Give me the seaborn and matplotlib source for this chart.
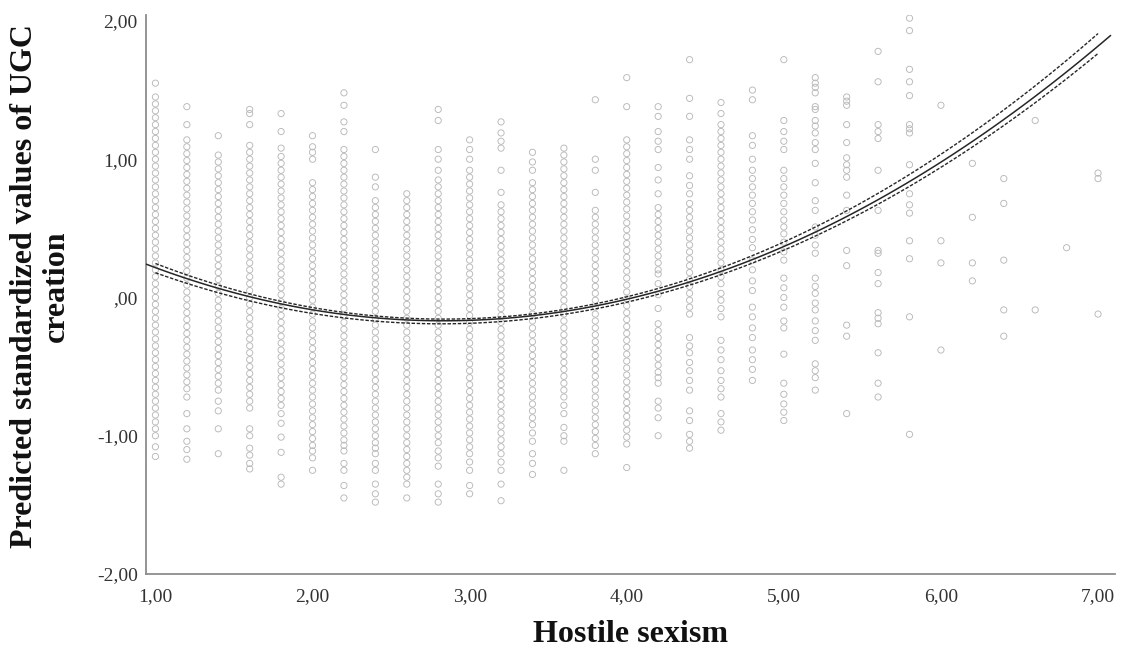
import numpy as np
import pandas as pd
import matplotlib
matplotlib.use("Agg")
import matplotlib.pyplot as plt
from matplotlib.ticker import FuncFormatter
import seaborn as sns

# --- data ---
# observed values per hostile sexism level (x = 1.0, 1.2, ..., 7.0)
hostile_levels = [1.0, 1.2, 1.4, 1.6, 1.8, 2.0, 2.2, 2.4, 2.6, 2.8, 3.0,
                  3.2, 3.4, 3.6, 3.8, 4.0, 4.2, 4.4, 4.6, 4.8, 5.0, 5.2,
                  5.4, 5.6, 5.8, 6.0, 6.2, 6.4, 6.6, 6.8, 7.0]

ugc_10 = [1.55, 1.45, 1.40, 1.35, 1.30, 1.25, 1.20, 1.15, 1.10, 1.05, 1.00, 0.95, 0.90, 0.85, 0.80,
          0.75, 0.70, 0.65, 0.60, 0.55, 0.50, 0.45, 0.40, 0.35, 0.30, 0.25, 0.20, 0.15, 0.10, 0.05,
          0.00, -0.05, -0.10, -0.15, -0.20, -0.25, -0.30, -0.35, -0.40, -0.45, -0.50, -0.55, -0.60,
          -0.65, -0.70, -0.75, -0.80, -0.85, -0.90, -0.95, -1.00, -1.08, -1.15]
ugc_12 = [1.38, 1.25, 1.14, 1.09, 1.04, 0.99, 0.94, 0.89, 0.84, 0.79, 0.74, 0.69, 0.64, 0.59, 0.54,
          0.49, 0.44, 0.39, 0.34, 0.29, 0.24, 0.19, 0.14, 0.09, 0.04, -0.01, -0.06, -0.11, -0.16,
          -0.21, -0.26, -0.31, -0.36, -0.41, -0.46, -0.51, -0.56, -0.61, -0.66, -0.72, -0.84, -0.95,
          -1.04, -1.10, -1.17]
ugc_14 = [1.17, 1.03, 0.98, 0.93, 0.88, 0.83, 0.78, 0.73, 0.68, 0.63, 0.58, 0.53, 0.48, 0.43, 0.38,
          0.33, 0.28, 0.23, 0.18, 0.13, 0.08, 0.03, -0.02, -0.07, -0.12, -0.17, -0.22, -0.27, -0.32,
          -0.37, -0.42, -0.47, -0.52, -0.57, -0.62, -0.67, -0.75, -0.82, -0.95, -1.13]
ugc_16 = [1.36, 1.33, 1.25, 1.10, 1.05, 1.00, 0.95, 0.90, 0.85, 0.80, 0.75, 0.70, 0.65, 0.60, 0.55,
          0.50, 0.45, 0.40, 0.35, 0.30, 0.25, 0.20, 0.15, 0.10, 0.05, 0.00, -0.05, -0.10, -0.15,
          -0.20, -0.25, -0.30, -0.35, -0.40, -0.45, -0.50, -0.55, -0.60, -0.65, -0.70, -0.75, -0.80,
          -0.95, -1.00, -1.09, -1.14, -1.20, -1.24]
ugc_18 = [1.33, 1.20, 1.08, 1.02, 0.97, 0.92, 0.87, 0.82, 0.77, 0.72, 0.67, 0.62, 0.57, 0.52, 0.47,
          0.42, 0.37, 0.32, 0.27, 0.22, 0.17, 0.12, 0.07, 0.02, -0.03, -0.08, -0.13, -0.18, -0.23,
          -0.28, -0.33, -0.38, -0.43, -0.48, -0.53, -0.58, -0.63, -0.68, -0.73, -0.78, -0.84, -0.91,
          -1.01, -1.12, -1.30, -1.35]
ugc_20 = [1.17, 1.09, 1.05, 1.00, 0.83, 0.78, 0.73, 0.68, 0.63, 0.58, 0.53, 0.48, 0.43, 0.38, 0.33,
          0.28, 0.23, 0.18, 0.13, 0.08, 0.03, -0.02, -0.07, -0.12, -0.17, -0.22, -0.27, -0.32, -0.37,
          -0.42, -0.47, -0.52, -0.57, -0.62, -0.67, -0.72, -0.77, -0.82, -0.87, -0.92, -0.97, -1.02,
          -1.07, -1.11, -1.16, -1.25]
ugc_22 = [1.48, 1.39, 1.27, 1.20, 1.07, 1.02, 0.97, 0.92, 0.87, 0.82, 0.77, 0.72, 0.67, 0.62, 0.57,
          0.52, 0.47, 0.42, 0.37, 0.32, 0.27, 0.22, 0.17, 0.12, 0.07, 0.02, -0.03, -0.08, -0.13,
          -0.18, -0.23, -0.28, -0.33, -0.38, -0.43, -0.48, -0.53, -0.58, -0.63, -0.68, -0.73, -0.78,
          -0.83, -0.88, -0.93, -0.98, -1.03, -1.07, -1.11, -1.20, -1.25, -1.36, -1.45]
ugc_24 = [1.07, 0.87, 0.80, 0.70, 0.65, 0.60, 0.55, 0.50, 0.45, 0.40, 0.35, 0.30, 0.25, 0.20, 0.15,
          0.10, 0.05, 0.00, -0.05, -0.10, -0.15, -0.20, -0.25, -0.30, -0.35, -0.40, -0.45, -0.50,
          -0.55, -0.60, -0.65, -0.70, -0.75, -0.80, -0.85, -0.90, -0.95, -1.00, -1.05, -1.09, -1.13,
          -1.20, -1.25, -1.35, -1.42, -1.48]
ugc_26 = [0.75, 0.70, 0.65, 0.60, 0.55, 0.50, 0.45, 0.40, 0.35, 0.30, 0.25, 0.20, 0.15, 0.10, 0.05,
          0.00, -0.05, -0.10, -0.15, -0.20, -0.25, -0.30, -0.35, -0.40, -0.45, -0.50, -0.55, -0.60,
          -0.65, -0.70, -0.75, -0.80, -0.85, -0.90, -0.95, -1.00, -1.05, -1.10, -1.15, -1.20, -1.25,
          -1.30, -1.35, -1.45]
ugc_28 = [1.36, 1.28, 1.07, 1.00, 0.92, 0.85, 0.80, 0.75, 0.70, 0.65, 0.60, 0.55, 0.50, 0.45, 0.40,
          0.35, 0.30, 0.25, 0.20, 0.15, 0.10, 0.05, 0.00, -0.05, -0.10, -0.15, -0.20, -0.25, -0.30,
          -0.35, -0.40, -0.45, -0.50, -0.55, -0.60, -0.65, -0.70, -0.75, -0.80, -0.85, -0.90, -0.95,
          -1.00, -1.05, -1.11, -1.16, -1.22, -1.35, -1.42, -1.48]
ugc_30 = [1.14, 1.07, 1.00, 0.92, 0.87, 0.82, 0.77, 0.72, 0.67, 0.62, 0.57, 0.52, 0.47, 0.42, 0.37,
          0.32, 0.27, 0.22, 0.17, 0.12, 0.07, 0.02, -0.03, -0.08, -0.13, -0.18, -0.23, -0.28, -0.33,
          -0.38, -0.43, -0.48, -0.53, -0.58, -0.63, -0.68, -0.73, -0.78, -0.83, -0.88, -0.93, -0.98,
          -1.03, -1.08, -1.13, -1.19, -1.25, -1.36, -1.42]
ugc_32 = [1.27, 1.19, 1.13, 1.08, 0.92, 0.76, 0.67, 0.62, 0.57, 0.52, 0.47, 0.42, 0.37, 0.32, 0.27,
          0.22, 0.17, 0.12, 0.07, 0.02, -0.03, -0.08, -0.13, -0.18, -0.23, -0.28, -0.33, -0.38,
          -0.43, -0.48, -0.53, -0.58, -0.63, -0.68, -0.73, -0.78, -0.83, -0.88, -0.93, -0.98, -1.03,
          -1.08, -1.13, -1.19, -1.25, -1.35, -1.47]
ugc_34 = [1.05, 0.98, 0.92, 0.83, 0.78, 0.73, 0.68, 0.63, 0.58, 0.53, 0.48, 0.43, 0.38, 0.33, 0.28,
          0.23, 0.18, 0.13, 0.08, 0.03, -0.02, -0.07, -0.12, -0.17, -0.22, -0.27, -0.32, -0.37,
          -0.42, -0.47, -0.52, -0.57, -0.62, -0.67, -0.72, -0.77, -0.82, -0.87, -0.92, -0.98, -1.04,
          -1.13, -1.20, -1.28]
ugc_36 = [1.08, 1.03, 0.98, 0.93, 0.88, 0.83, 0.78, 0.73, 0.68, 0.63, 0.58, 0.53, 0.48, 0.43, 0.38,
          0.33, 0.28, 0.23, 0.18, 0.13, 0.08, 0.03, -0.02, -0.07, -0.12, -0.17, -0.22, -0.27, -0.32,
          -0.37, -0.42, -0.47, -0.52, -0.57, -0.62, -0.67, -0.72, -0.78, -0.84, -0.94, -1.00, -1.04,
          -1.25]
ugc_38 = [1.43, 1.00, 0.92, 0.76, 0.63, 0.58, 0.53, 0.48, 0.43, 0.38, 0.33, 0.28, 0.23, 0.18, 0.13,
          0.08, 0.03, -0.02, -0.07, -0.12, -0.17, -0.22, -0.27, -0.32, -0.37, -0.42, -0.47, -0.52,
          -0.57, -0.62, -0.67, -0.72, -0.77, -0.82, -0.87, -0.92, -0.97, -1.02, -1.07, -1.13]
ugc_40 = [1.59, 1.38, 1.14, 1.09, 1.04, 0.99, 0.94, 0.89, 0.84, 0.79, 0.74, 0.69, 0.64, 0.59, 0.54,
          0.49, 0.44, 0.39, 0.34, 0.29, 0.24, 0.19, 0.14, 0.09, 0.04, -0.01, -0.06, -0.11, -0.16,
          -0.21, -0.26, -0.31, -0.36, -0.41, -0.46, -0.51, -0.56, -0.61, -0.66, -0.71, -0.76, -0.81,
          -0.86, -0.91, -0.96, -1.01, -1.06, -1.23]
ugc_42 = [1.38, 1.31, 1.20, 1.13, 1.07, 0.94, 0.85, 0.75, 0.65, 0.60, 0.55, 0.50, 0.45, 0.40, 0.35,
          0.30, 0.25, 0.20, 0.17, 0.10, 0.02, -0.08, -0.19, -0.24, -0.29, -0.34, -0.39, -0.44,
          -0.49, -0.54, -0.58, -0.62, -0.75, -0.80, -0.87, -1.00]
ugc_44 = [1.72, 1.44, 1.31, 1.14, 1.07, 1.00, 0.88, 0.81, 0.75, 0.68, 0.63, 0.58, 0.53, 0.48, 0.43,
          0.38, 0.33, 0.28, 0.23, 0.18, 0.13, 0.08, 0.03, -0.02, -0.07, -0.12, -0.29, -0.35, -0.40,
          -0.47, -0.53, -0.60, -0.67, -0.82, -0.89, -0.99, -1.04, -1.09]
ugc_46 = [1.41, 1.33, 1.25, 1.20, 1.15, 1.10, 1.05, 1.00, 0.95, 0.90, 0.85, 0.80, 0.75, 0.70, 0.65,
          0.60, 0.55, 0.50, 0.45, 0.40, 0.35, 0.30, 0.25, 0.20, 0.15, 0.10, 0.03, -0.02, -0.08,
          -0.14, -0.31, -0.38, -0.45, -0.53, -0.60, -0.66, -0.72, -0.84, -0.90, -0.96]
ugc_48 = [1.50, 1.43, 1.17, 1.10, 1.00, 0.92, 0.86, 0.80, 0.74, 0.68, 0.62, 0.56, 0.49, 0.42, 0.36,
          0.27, 0.20, 0.12, 0.05, -0.07, -0.14, -0.22, -0.29, -0.38, -0.45, -0.52, -0.60]
ugc_50 = [1.72, 1.28, 1.20, 1.13, 1.07, 0.92, 0.86, 0.80, 0.74, 0.68, 0.62, 0.56, 0.51, 0.46, 0.40,
          0.33, 0.27, 0.14, 0.07, 0.00, -0.07, -0.17, -0.22, -0.41, -0.62, -0.70, -0.77, -0.83, -0.89]
ugc_52 = [1.59, 1.55, 1.52, 1.48, 1.38, 1.36, 1.28, 1.24, 1.19, 1.12, 1.07, 0.97, 0.83, 0.70, 0.63,
          0.51, 0.45, 0.38, 0.32, 0.14, 0.08, 0.03, -0.04, -0.09, -0.17, -0.24, -0.31, -0.48, -0.53,
          -0.58, -0.67]
ugc_54 = [1.45, 1.42, 1.39, 1.25, 1.12, 1.01, 0.96, 0.92, 0.87, 0.74, 0.63, 0.34, 0.23, -0.20,
          -0.28, -0.84]
ugc_56 = [1.78, 1.56, 1.25, 1.20, 1.15, 0.92, 0.63, 0.34, 0.32, 0.18, 0.10, -0.11, -0.15, -0.19,
          -0.40, -0.62, -0.72]
ugc_58 = [2.02, 1.93, 1.65, 1.56, 1.46, 1.25, 1.22, 1.19, 0.96, 0.75, 0.67, 0.61, 0.41, 0.28,
          -0.14, -0.99]
ugc_60 = [1.39, 0.41, 0.25, -0.38]
ugc_62 = [0.97, 0.58, 0.25, 0.12]
ugc_64 = [0.86, 0.68, 0.27, -0.09, -0.28]
ugc_66 = [1.28, -0.09]
ugc_68 = [0.36]
ugc_70 = [0.90, 0.86, -0.12]

ugc_columns = [ugc_10, ugc_12, ugc_14, ugc_16, ugc_18, ugc_20, ugc_22, ugc_24, ugc_26, ugc_28,
               ugc_30, ugc_32, ugc_34, ugc_36, ugc_38, ugc_40, ugc_42, ugc_44, ugc_46, ugc_48,
               ugc_50, ugc_52, ugc_54, ugc_56, ugc_58, ugc_60, ugc_62, ugc_64, ugc_66, ugc_68,
               ugc_70]

# quadratic fit line and its confidence limits, read at a few x positions
fit_x = [0.94, 1.0, 2.0, 3.0, 4.0, 5.0, 6.0, 7.0, 7.08]
fit_y = [0.25, 0.22, -0.09, -0.19, -0.03, 0.38, 1.03, 1.81, 1.87]
ci_x = [1.0, 2.0, 3.0, 4.0, 5.0, 6.0, 7.0]
ci_lower = [0.185, -0.11, -0.205, -0.05, 0.35, 0.98, 1.74]
ci_upper = [0.255, -0.07, -0.175, -0.01, 0.41, 1.08, 1.88]

# --- build table ---
df = pd.DataFrame({
    "Hostile sexism": np.repeat(hostile_levels, [len(c) for c in ugc_columns]),
    "UGC": np.concatenate(ugc_columns),
})

# --- plot ---
sns.set_style("white")
plt.rcParams["font.family"] = ["Liberation Serif", "DejaVu Serif"]

fig = plt.figure(figsize=(11.25, 6.54), dpi=100)
ax = fig.add_axes([146 / 1125, 1 - 574 / 654, 969 / 1125, 559 / 654])

sns.scatterplot(data=df, x="Hostile sexism", y="UGC", ax=ax, marker="o",
                s=20, facecolor="none", edgecolor="#b8b8b8", linewidth=0.65,
                zorder=1, legend=False)

line_col = "#262626"
sns.regplot(x=fit_x, y=fit_y, order=2, scatter=False, ci=None, ax=ax,
            line_kws=dict(color=line_col, lw=1.1, zorder=3))
for ci_y in (ci_lower, ci_upper):
    sns.regplot(x=ci_x, y=ci_y, order=2, scatter=False, ci=None, ax=ax,
                line_kws=dict(color=line_col, lw=1.0, ls=(0, (2.5, 1.2)), zorder=3))

ax.set_xlim(0.94, 7.108)
ax.set_ylim(-2.0, 2.043)
ax.set_xticks([1, 2, 3, 4, 5, 6, 7])
ax.set_yticks([-2, -1, 0, 1, 2])


def comma_fmt(v, pos):
    s = f"{v:.2f}".replace(".", ",")
    if s.startswith("0,"):
        s = s[1:]
    return s


ax.xaxis.set_major_formatter(FuncFormatter(comma_fmt))
ax.yaxis.set_major_formatter(FuncFormatter(comma_fmt))
ax.tick_params(axis="both", length=0, labelsize=14, labelcolor="#333333")
ax.tick_params(axis="x", pad=10)
ax.tick_params(axis="y", pad=6)

for side in ("top", "right"):
    ax.spines[side].set_visible(False)
for side in ("left", "bottom"):
    ax.spines[side].set_color("#8c8c8c")
    ax.spines[side].set_linewidth(1.3)

ax.set_xlabel("Hostile sexism", fontsize=23, fontweight="bold", color="#111111")
ax.set_ylabel("Predicted standardized values of UGC\ncreation", fontsize=23,
              fontweight="bold", color="#111111", linespacing=1.1)
ax.xaxis.set_label_coords(0.5, -0.083)
ax.yaxis.set_label_coords(-0.078, 0.515)

fig.savefig("out.png", dpi=100)
